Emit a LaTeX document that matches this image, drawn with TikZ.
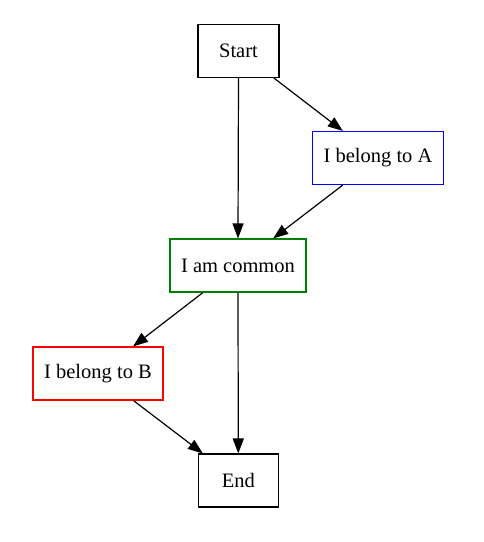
\documentclass[tikz,border=0pt]{standalone}
\usepackage{fontspec}
\setmainfont{Liberation Serif}
\usetikzlibrary{arrows.meta}
\begin{document}
\begin{tikzpicture}[x=1pt,y=-1pt,
  box/.style={draw, line width=1.1pt, minimum height=53pt, inner sep=0pt, font=\fontsize{20.5}{24}\selectfont},
  edge/.style={line width=1.2pt, -{Triangle[length=15pt,width=11pt]}}]
\useasboundingbox (0,0) rectangle (484,542);
\node[box, minimum width=81pt] (start) at (238.5,50.8) {Start};
\node[box, draw={rgb,255:red,0;green,0;blue,255}, minimum width=131pt] (a) at (378,158) {I belong to A};
\node[box, draw={rgb,255:red,0;green,128;blue,0}, minimum width=136pt] (c) at (238,265.5) {I am common};
\node[box, draw={rgb,255:red,255;green,0;blue,0}, minimum width=130pt] (b) at (98,373.5) {I belong to B};
\node[box, minimum width=80pt] (end) at (238.3,480.5) {End};
\draw[edge] (start) -- (a);
\draw[edge] (start.south) -- (c.north);
\draw[edge] (a) -- (c);
\draw[edge] (c) -- (b);
\draw[edge] (c.south) -- (end.north);
\draw[edge] (b) -- (end);
\end{tikzpicture}
\end{document}
